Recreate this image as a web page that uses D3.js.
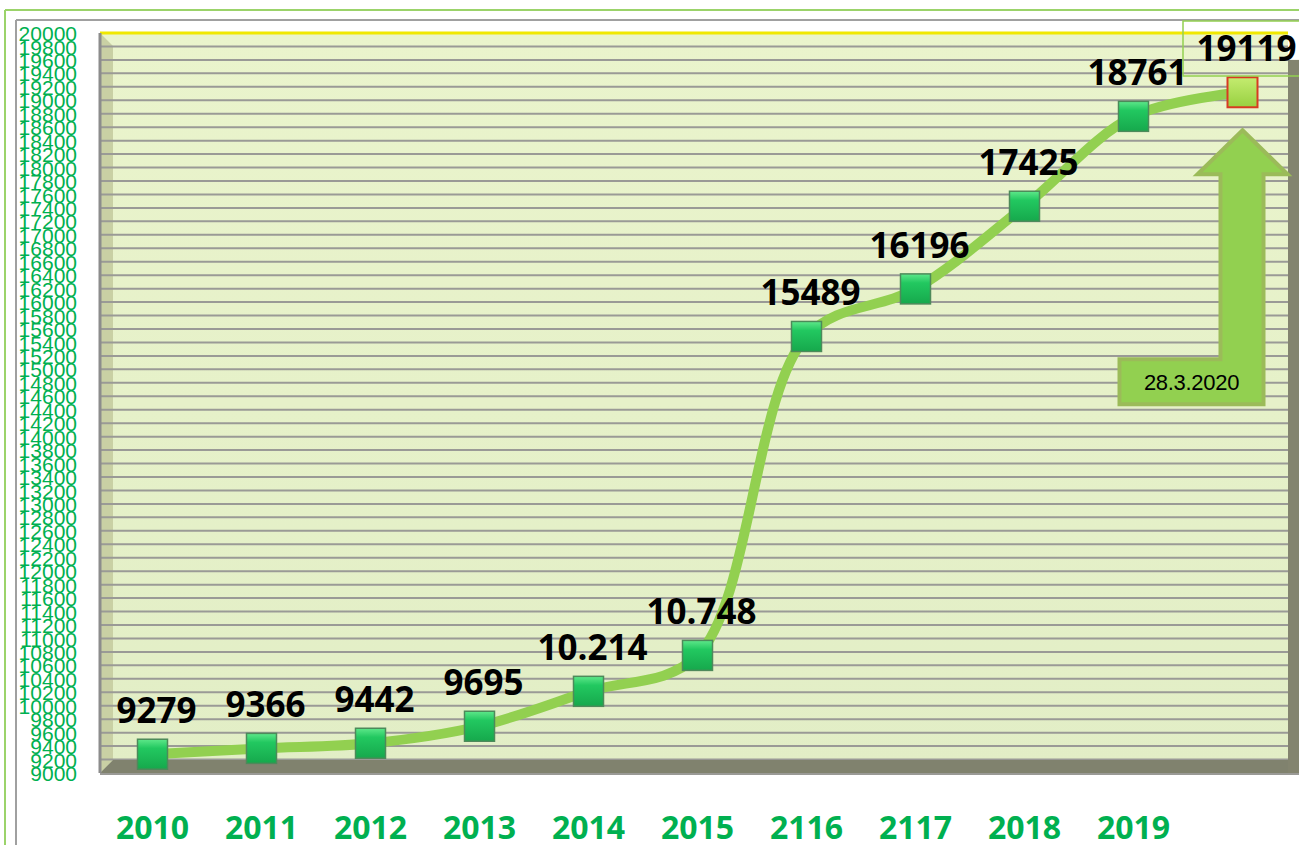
<!DOCTYPE html>
<html>
<head>
<meta charset="utf-8">
<script src="https://cdn.jsdelivr.net/npm/d3@7"></script>
<style>
  body { margin: 0; background: #fff; }
  svg { display: block; }
</style>
</head>
<body>
<svg id="chart" width="1299" height="845"></svg>
<script>
// data
const years = ["2010", "2011", "2012", "2013", "2014", "2015", "2116", "2117", "2018", "2019", "2020"];
const yearLabels = ["2010", "2011", "2012", "2013", "2014", "2015", "2116", "2117", "2018", "2019", ""];
const values = [9279, 9366, 9442, 9695, 10214, 10748, 15489, 16196, 17425, 18761, 19119];
const valueLabels = ["9279", "9366", "9442", "9695", "10.214", "10.748", "15489", "16196", "17425", "18761", "19119"];
const yTicks = d3.range(9000, 20001, 200);
const note = "28.3.2020";

const svg = d3.select("#chart");
const green = "#00b050";

let xScale = d3.scaleBand()
  .domain(years)
  .range([98, 1297]);

let yScale = d3.scaleLinear()
  .domain([9000, 20000])
  .range([773, 33]);

const cx = d => xScale(d) + xScale.bandwidth() / 2;

// gradients
let defs = svg.append("defs");
let wall = defs.append("linearGradient").attr("id", "wall")
  .attr("x1", 0).attr("y1", 0).attr("x2", 0).attr("y2", 1);
wall.append("stop").attr("offset", "0%").attr("stop-color", "#eaf4cc");
wall.append("stop").attr("offset", "100%").attr("stop-color", "#e2eec6");

let mk = defs.append("linearGradient").attr("id", "mk")
  .attr("x1", 0).attr("y1", 0).attr("x2", 0).attr("y2", 1);
mk.append("stop").attr("offset", "0%").attr("stop-color", "#5ee88a");
mk.append("stop").attr("offset", "30%").attr("stop-color", "#22c860");
mk.append("stop").attr("offset", "100%").attr("stop-color", "#16a84c");

let mkLast = defs.append("linearGradient").attr("id", "mkLast")
  .attr("x1", 0).attr("y1", 0).attr("x2", 0).attr("y2", 1);
mkLast.append("stop").attr("offset", "0%").attr("stop-color", "#c4ec70");
mkLast.append("stop").attr("offset", "100%").attr("stop-color", "#98d040");

// outer frames
svg.append("line").attr("x1", 5).attr("y1", 10).attr("x2", 1299).attr("y2", 10)
  .attr("stroke", "#9bd36a").attr("stroke-width", 2);
svg.append("line").attr("x1", 5).attr("y1", 10).attr("x2", 5).attr("y2", 845)
  .attr("stroke", "#9bd36a").attr("stroke-width", 2);
svg.append("line").attr("x1", 16).attr("y1", 20).attr("x2", 1299).attr("y2", 20)
  .attr("stroke", "#a0a0a0").attr("stroke-width", 2);
svg.append("line").attr("x1", 16).attr("y1", 20).attr("x2", 16).attr("y2", 845)
  .attr("stroke", "#a0a0a0").attr("stroke-width", 2);

// plot back wall
const left = 100, right = 1288;
svg.append("rect")
  .attr("x", left).attr("y", yScale(20000))
  .attr("width", right - left).attr("height", yScale(9000) - yScale(20000))
  .attr("fill", "url(#wall)");

// left side wall
svg.append("polygon")
  .attr("points", [[left, yScale(20000)], [left + 13, yScale(20000) + 13],
                   [left + 13, yScale(9000) - 13], [left, yScale(9000)]].join(" "))
  .attr("fill", "#c9d0a4");

// grid lines
svg.append("g").selectAll("line")
  .data(yTicks.filter(v => v > 9000 && v < 20000))
  .enter().append("line")
  .attr("x1", left).attr("x2", right)
  .attr("y1", d => yScale(d)).attr("y2", d => yScale(d))
  .attr("stroke", "#9a9a96").attr("stroke-width", 2);

// top edge
svg.append("line")
  .attr("x1", left).attr("x2", right)
  .attr("y1", yScale(20000)).attr("y2", yScale(20000))
  .attr("stroke", "#f0e800").attr("stroke-width", 3);

// floor
svg.append("polygon")
  .attr("points", [[left, yScale(9000)], [left + 13, yScale(9000) - 13],
                   [1299, yScale(9000) - 13], [1299, yScale(9000)]].join(" "))
  .attr("fill", "#80826e");
svg.append("line")
  .attr("x1", left).attr("x2", 1299)
  .attr("y1", yScale(9000) + 1).attr("y2", yScale(9000) + 1)
  .attr("stroke", "#9a9a96").attr("stroke-width", 2);

// right wall
svg.append("rect")
  .attr("x", right).attr("y", yScale(19600))
  .attr("width", 1299 - right).attr("height", yScale(9000) - yScale(19600))
  .attr("fill", "#83846f");

// left wall edge
svg.append("line")
  .attr("x1", left).attr("x2", left)
  .attr("y1", yScale(20000)).attr("y2", yScale(9000))
  .attr("stroke", "#8c8c8c").attr("stroke-width", 3);

// y axis
let yAxis = d3.axisLeft(yScale).tickValues(yTicks).tickFormat(d3.format("d"))
  .tickSize(0).tickPadding(0);
let yg = svg.append("g").attr("transform", "translate(77,0)").call(yAxis);
yg.select(".domain").remove();
yg.selectAll("text")
  .attr("fill", green)
  .attr("font-family", "'Liberation Sans', Arial, sans-serif")
  .attr("font-size", 21)
  .attr("dy", "0.36em");

// x axis labels
let xAxis = d3.axisBottom(xScale).tickFormat((d, i) => yearLabels[i]).tickSize(0);
let xg = svg.append("g").attr("transform", "translate(0,804)").call(xAxis);
xg.select(".domain").remove();
xg.selectAll("text")
  .attr("fill", green)
  .attr("font-family", "'Open Sans', sans-serif")
  .attr("font-weight", "bold")
  .attr("font-size", 32)
  .attr("dy", "1em");

// smooth line
let line = d3.line()
  .x((d, i) => cx(years[i]))
  .y(d => yScale(d))
  .curve(d3.curveCatmullRom.alpha(0.5));

svg.append("path")
  .datum(values)
  .attr("d", line)
  .attr("fill", "none")
  .attr("stroke", "#92d050")
  .attr("stroke-width", 10)
  .attr("stroke-linecap", "round");

// markers
const ms = 30;
let last = values.length - 1;
svg.append("g").selectAll("rect")
  .data(values)
  .enter().append("rect")
  .attr("x", (d, i) => cx(years[i]) - ms / 2)
  .attr("y", d => yScale(d) - ms / 2)
  .attr("width", ms).attr("height", ms)
  .attr("fill", (d, i) => i == last ? "url(#mkLast)" : "url(#mk)")
  .attr("stroke", (d, i) => i == last ? "#d83a22" : "#4d8a5a")
  .attr("stroke-width", (d, i) => i == last ? 2 : 1.5);

// data labels
svg.append("g").selectAll("text")
  .data(values)
  .enter().append("text")
  .attr("x", (d, i) => cx(years[i]) + 4)
  .attr("y", d => yScale(d) - 31)
  .attr("text-anchor", "middle")
  .attr("font-family", "'Open Sans', sans-serif")
  .attr("font-weight", "bold")
  .attr("font-size", 35)
  .attr("fill", "#000")
  .text((d, i) => valueLabels[i]);

// box around the last label
svg.append("rect")
  .attr("x", 1183).attr("y", 21)
  .attr("width", 130).attr("height", 55)
  .attr("fill", "none")
  .attr("stroke", "#92d050").attr("stroke-width", 1.5);

// bent arrow pointing at the last value
let ax = cx(years[last]);
let tipY = yScale(values[last]) + 38;
let headY = tipY + 44;
let boxTop = yScale(15150), boxBot = yScale(14480);
let arrow = [
  [ax, tipY], [ax + 45, headY], [ax + 21, headY], [ax + 21, boxBot],
  [ax - 123, boxBot], [ax - 123, boxTop], [ax - 22, boxTop], [ax - 22, headY],
  [ax - 45, headY]
];
svg.append("polygon")
  .attr("points", arrow.join(" "))
  .attr("fill", "#92d050")
  .attr("stroke", "#9bbb59")
  .attr("stroke-width", 4)
  .attr("stroke-linejoin", "miter");

svg.append("text")
  .attr("x", ax - 51)
  .attr("y", (boxTop + boxBot) / 2 + 8)
  .attr("text-anchor", "middle")
  .attr("font-family", "'Liberation Sans', Arial, sans-serif")
  .attr("font-size", 22)
  .attr("letter-spacing", -0.3)
  .attr("fill", "#000")
  .text(note);
</script>
</body>
</html>
